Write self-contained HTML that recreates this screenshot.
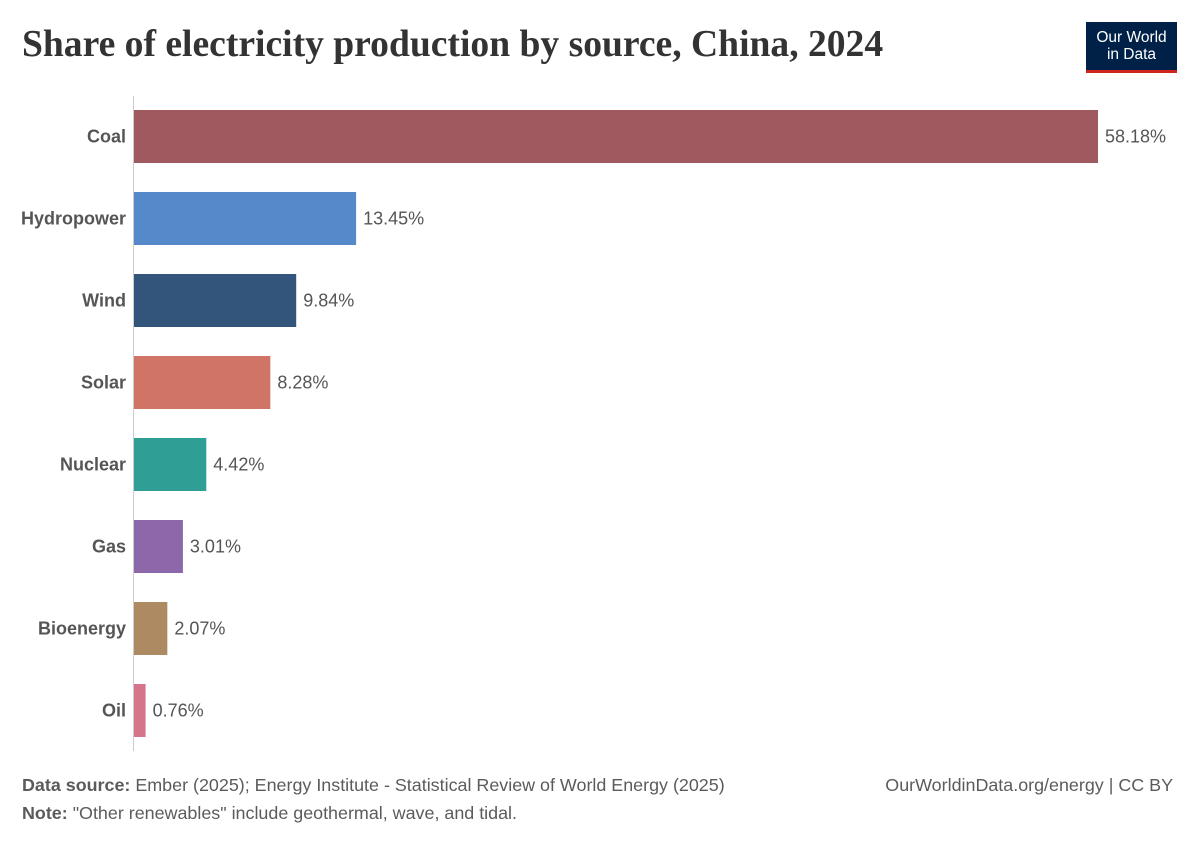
<!DOCTYPE html>
<html><head><meta charset="utf-8">
<style>
body{margin:0;background:#fff;width:1200px;height:847px;overflow:hidden;font-family:"Liberation Sans",sans-serif;}
#title{position:absolute;left:22px;top:23px;font-family:"Liberation Serif",serif;font-size:37.6px;color:#333;margin:0;font-weight:bold;}
#logo{position:absolute;left:1086px;top:22px;width:91px;height:51px;background:#002147;color:#fff;text-align:center;font-size:15.5px;line-height:17px;padding-top:7px;box-sizing:border-box;}
#logo-bar{position:absolute;left:0;bottom:0;width:100%;height:3px;background:#ce261e;}
.foot{position:absolute;font-size:17.9px;color:#5b5b5b;}
.foot b{color:#5b5b5b;}
</style></head><body>
<h1 id="title">Share of electricity production by source, China, 2024</h1>
<div id="logo">Our World<br>in Data<div id="logo-bar"></div></div>
<svg id="chart" width="1200" height="847" style="position:absolute;left:0;top:0"></svg>
<div class="foot" style="left:22px;top:775px"><b>Data source:</b> Ember (2025); Energy Institute - Statistical Review of World Energy (2025)</div>
<div class="foot" style="left:22px;top:803px"><b>Note:</b> "Other renewables" include geothermal, wave, and tidal.</div>
<div class="foot" style="right:27px;top:775px">OurWorldinData.org/energy | CC BY</div>
<script>
const categories=["Coal","Hydropower","Wind","Solar","Nuclear","Gas","Bioenergy","Oil"];
const values=[58.18,13.45,9.84,8.28,4.42,3.01,2.07,0.76];
const valueLabels=["58.18%","13.45%","9.84%","8.28%","4.42%","3.01%","2.07%","0.76%"];
const colors=["#a05a5f","#5589c9","#34557b","#d07466","#2f9e94","#8c68ab","#ae8a62","#d4758c"];
const NS="http://www.w3.org/2000/svg";
const svg=document.getElementById("chart");
const x0=133, pxPer=(1098-133)/58.18;
const xs=v=>x0+v*pxPer;
const ys=i=>110+i*82;
const bh=53;
function mk(t,a){const e=document.createElementNS(NS,t);for(const k in a)e.setAttribute(k,a[k]);svg.appendChild(e);return e;}
categories.forEach((c,i)=>{
  const r=mk("rect",{x:x0,y:ys(i),width:xs(values[i])-x0,height:bh,fill:colors[i]});
  
  
  const l=mk("text",{x:126,y:ys(i)+bh/2+6,"text-anchor":"end","font-size":"18","font-weight":"bold",fill:"#555","font-family":"Liberation Sans, sans-serif"});
  l.textContent=c;
  
  
  const v=mk("text",{x:xs(values[i])+7,y:ys(i)+bh/2+6,"font-size":"18",fill:"#555","font-family":"Liberation Sans, sans-serif"});
  v.textContent=valueLabels[i];
  
  
});
const ax=mk("line",{x1:x0+0.5,x2:x0+0.5,y1:96,y2:751,stroke:"#ccc","stroke-width":1});


</script>
</body></html>
